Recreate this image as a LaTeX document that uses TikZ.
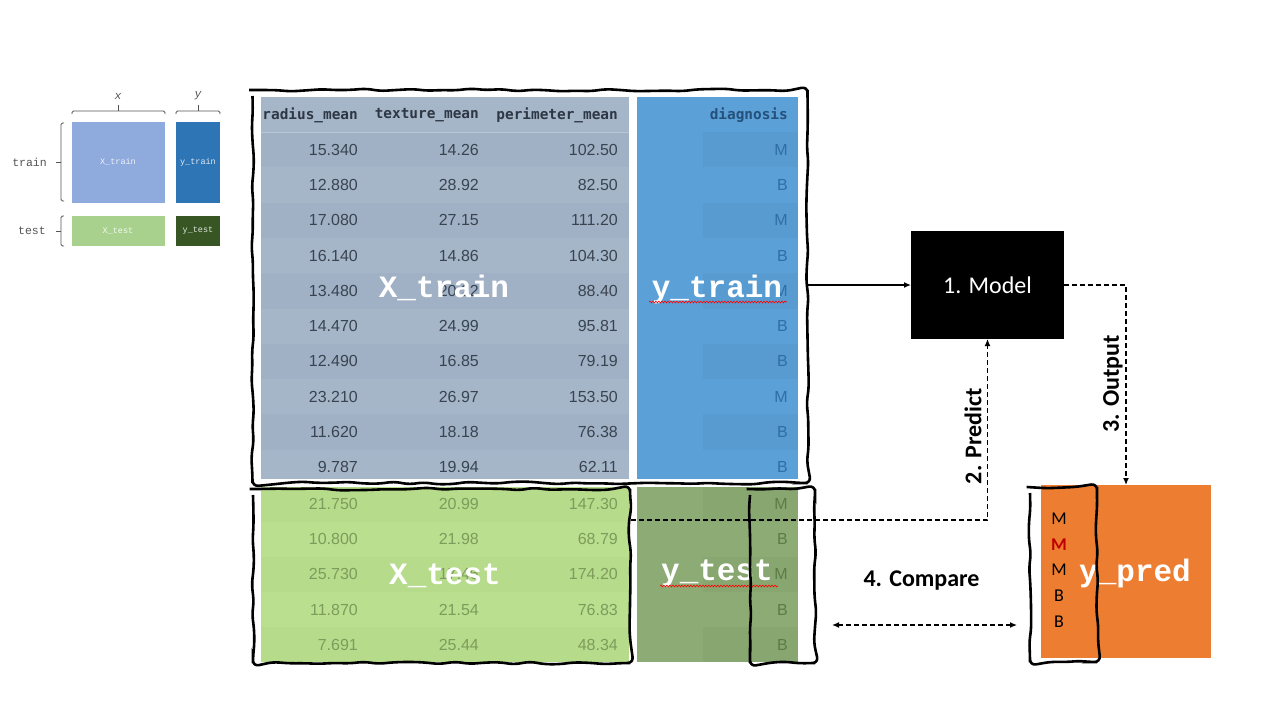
\documentclass[tikz,border=0pt]{standalone}
\usepackage{fontspec}
\setmainfont{Carlito}
\newfontfamily\numfont{Liberation Sans}
\newfontfamily\hdrfont{DejaVu Sans Mono}
\newfontfamily\bigmono{Liberation Mono}
\usetikzlibrary{arrows.meta,decorations.pathmorphing,calc}
\definecolor{xtrA}{HTML}{A5B6C9}
\definecolor{xtrB}{HTML}{A0B1C5}
\definecolor{xtrline}{HTML}{B7C5D5}
\definecolor{xtrtxt}{HTML}{3A4451}
\definecolor{xtrhdr}{HTML}{2E3744}
\definecolor{ytr}{HTML}{5BA0D7}
\definecolor{ytrB}{HTML}{589BD1}
\definecolor{ytrtxt}{HTML}{2F6EA6}
\definecolor{ytrhdr}{HTML}{24507A}
\definecolor{xteA}{HTML}{B9DF8F}
\definecolor{xteB}{HTML}{B5DB8B}
\definecolor{xtetxt}{HTML}{7D9C5B}
\definecolor{yte}{HTML}{8CAB75}
\definecolor{yteB}{HTML}{88A770}
\definecolor{ytetxt}{HTML}{5B7B48}
\definecolor{pred}{HTML}{ED7D31}
\definecolor{lgXtr}{HTML}{8FAADC}
\definecolor{lgYtr}{HTML}{2E75B6}
\definecolor{lgXte}{HTML}{A9D18E}
\definecolor{lgYte}{HTML}{375623}
\definecolor{legtext}{HTML}{555555}
\definecolor{redM}{HTML}{C00000}
\begin{document}
\begin{tikzpicture}[x=1pt,y=-1pt,
  num/.style={font=\numfont\fontsize{16}{16}\selectfont, anchor=east, inner sep=0pt},
  hdr/.style={font=\hdrfont\bfseries\fontsize{14.4}{14.4}\selectfont, anchor=east, inner sep=0pt, text=xtrhdr},
  big/.style={font=\bigmono\bfseries\fontsize{31}{31}\selectfont, text=white, anchor=base, inner sep=0pt},
  wavy/.style={draw=black, line width=2.6pt, decorate, decoration={random steps, segment length=15pt, amplitude=1.4pt}, rounded corners=6pt},
  area/.style={inner sep=0pt, outer sep=0pt},
  conn/.style={line width=1.3pt, -{Latex[length=7pt,width=6pt]}},
  dconn/.style={conn, dash pattern=on 5pt off 3pt},
  lbl/.style={font=\bfseries\fontsize{24}{24}\selectfont},
  legtxt/.style={font=\bigmono\fontsize{11.5}{11.5}\selectfont, text=legtext, inner sep=0pt},
  legin/.style={font=\bigmono\fontsize{8.5}{8.5}\selectfont, text=white, text opacity=0.85},
  leg/.style={line width=0.8pt, draw=legtext, rounded corners=1.5pt},
  squig/.style={draw=red, line width=0.6pt, decorate, decoration={snake, amplitude=0.9pt, segment length=3pt}}
]
\pgfmathsetseed{7}
\useasboundingbox[fill=white] (0,0) rectangle (1280,720);

% ---------------- legend ----------------
\node[area, fill=lgXtr, minimum width=93pt, minimum height=81pt, legin] (lxtr) at (118,162) {X\_train};
\node[area, fill=lgYtr, minimum width=44pt, minimum height=81pt, legin] (lytr) at (198,162) {y\_train};
\node[area, fill=lgXte, minimum width=93pt, minimum height=30pt, legin] (lxte) at (118,231) {X\_test};
\node[area, fill=lgYte, minimum width=44pt, minimum height=30pt, legin] (lyte) at (198,231) {y\_test};
\node[legtxt, font=\bigmono\itshape\fontsize{11.5}{11.5}\selectfont] (lx) at (118,96) {x};
\node[legtxt, font=\bigmono\itshape\fontsize{11.5}{11.5}\selectfont] (ly) at (198,96) {y};
\node[legtxt, anchor=east] (ltrain) at (47,162) {train};
\node[legtxt, anchor=east] (ltest) at (46,231) {test};
\draw[leg] (72,114) -- (72,111) -- (165,111) -- (165,114);
\draw[leg] (118,111) -- (118,105);
\draw[leg] (176,114) -- (176,111) -- (220,111) -- (220,114);
\draw[leg] (198,111) -- (198,105);
\draw[leg] (64,123) -- (61,123) -- (61,201) -- (64,201);
\draw[leg] (61,162) -- (56,162);
\draw[leg] (64,216) -- (61,216) -- (61,246) -- (64,246);
\draw[leg] (61,231) -- (56,231);

% ---------------- train table ----------------
\fill[xtrA] (261,97) rectangle (629,479);
\foreach \k in {1,3,5,7,9}
  \fill[xtrB] (261,{132+35.3*(\k-1)}) rectangle (629,{132+35.3*\k});
\draw[xtrline, line width=0.8pt] (261,132.5) -- (629,132.5);
\fill[ytr] (637,97) rectangle (798,479);
\foreach \k in {1,3,5,7,9}
  \fill[ytrB] (703,{132+35.3*(\k-1)}) rectangle (798,{132+35.3*\k});
\draw[ytrB, line width=0.8pt] (703,132.5) -- (798,132.5);

\node[hdr] (h1) at (358,115) {radius\_mean};
\node[hdr] (h2) at (479,115) {texture\_mean};
\node[hdr] (h3) at (618,115) {perimeter\_mean};
\node[hdr, text=ytrhdr] (h4) at (788,115) {diagnosis};

\foreach \a/\b/\c/\d [count=\i] in {15.340/14.26/102.50/M, 12.880/28.92/82.50/B, 17.080/27.15/111.20/M, 16.140/14.86/104.30/B, 13.480/20.22/88.40/M, 14.470/24.99/95.81/B, 12.490/16.85/79.19/B, 23.210/26.97/153.50/M, 11.620/18.18/76.38/B, 9.787/19.94/62.11/B} {
  \node[num, text=xtrtxt] (tr\i a) at (358,{149.6+35.3*(\i-1)}) {\a};
  \node[num, text=xtrtxt] (tr\i b) at (479,{149.6+35.3*(\i-1)}) {\b};
  \node[num, text=xtrtxt] (tr\i c) at (618,{149.6+35.3*(\i-1)}) {\c};
  \node[num, text=ytrtxt] (tr\i d) at (788,{149.6+35.3*(\i-1)}) {\d};
}

% ---------------- test table ----------------
\fill[xteA] (261,487) rectangle (629,662);
\foreach \k in {1,3,5}
  \fill[xteB] (261,{487+35*(\k-1)}) rectangle (629,{487+35*\k});
\fill[yte] (637,487) rectangle (798,662);
\foreach \k in {1,3,5}
  \fill[yteB] (703,{487+35*(\k-1)}) rectangle (798,{487+35*\k});

\foreach \a/\b/\c/\d [count=\i] in {21.750/20.99/147.30/M, 10.800/21.98/68.79/B, 25.730/17.46/174.20/M, 11.870/21.54/76.83/B, 7.691/25.44/48.34/B} {
  \node[num, text=xtetxt] (te\i a) at (358,{504+35.2*(\i-1)}) {\a};
  \node[num, text=xtetxt] (te\i b) at (479,{504+35.2*(\i-1)}) {\b};
  \node[num, text=xtetxt] (te\i c) at (618,{504+35.2*(\i-1)}) {\c};
  \node[num, text=ytetxt] (te\i d) at (788,{504+35.2*(\i-1)}) {\d};
}

% ---------------- big labels ----------------
\node[big] (bxtr) at (444,297) {X\_train};
\node[big] (bytr) at (717,297) {y\_train};
\node[big] (bxte) at (445,584) {X\_test};
\node[big] (byte) at (717,580) {y\_test};
\draw[squig] (649,302) -- (787,302);
\draw[squig] (660,586) -- (778,586);

% ---------------- y_pred ----------------
\node[area, fill=pred, minimum width=170pt, minimum height=173pt] (ypred) at (1126,571.5) {};
\node[big] (bypred) at (1135,581) {y\_pred};
\foreach \m/\yy/\cc/\ff [count=\i] in {M/519/black/\mdseries, M/545/redM/\bfseries, M/570/black/\mdseries, B/596/black/\mdseries, B/622/black/\mdseries}
  \node[inner sep=0pt, text=\cc, font=\ff\fontsize{18}{18}\selectfont] (pm\i) at (1059,\yy) {\m};

% ---------------- wavy frames ----------------
\node[area, minimum width=555pt, minimum height=393pt] (trainbox) at (530,286.5) {};
\node[area, minimum width=377pt, minimum height=174pt] (xtestbox) at (441.5,576) {};
\node[area, minimum width=65pt, minimum height=174pt] (ytestbox) at (782.5,576) {};
\node[area, minimum width=67pt, minimum height=175pt] (predbox) at (1063.5,574.5) {};
\draw[wavy] (trainbox.north west) rectangle (trainbox.south east);
\draw[wavy] (xtestbox.north west) rectangle (xtestbox.south east);
\draw[wavy] (ytestbox.north west) rectangle (ytestbox.south east);
\draw[wavy] (predbox.north west) rectangle (predbox.south east);

% ---------------- model and connectors ----------------
\node[area, fill=black, minimum width=153pt, minimum height=108pt, text=white, font=\fontsize{24}{24}\selectfont] (model) at (987.5,285) {1. Model};

\draw[conn] (trainbox.east |- model.west) -- (model.west);
\coordinate (pstart) at (631,520);
\draw[dconn] (pstart) -| (model.south);
\draw[dconn] (model.east) -| (ypred.north);
\node[lbl, rotate=90] (lpredict) at (973,436) {2. Predict};
\node[lbl, rotate=90] (loutput) at (1113,384) {3. Output};

\coordinate (c1) at (832,625);
\coordinate (c2) at (1017,625);
\draw[dconn, {Latex[length=7pt,width=6pt]}-{Latex[length=7pt,width=6pt]}] (c1) -- (c2);
\node[lbl] (lcompare) at (921.5,581) {4. Compare};
\end{tikzpicture}
\end{document}
